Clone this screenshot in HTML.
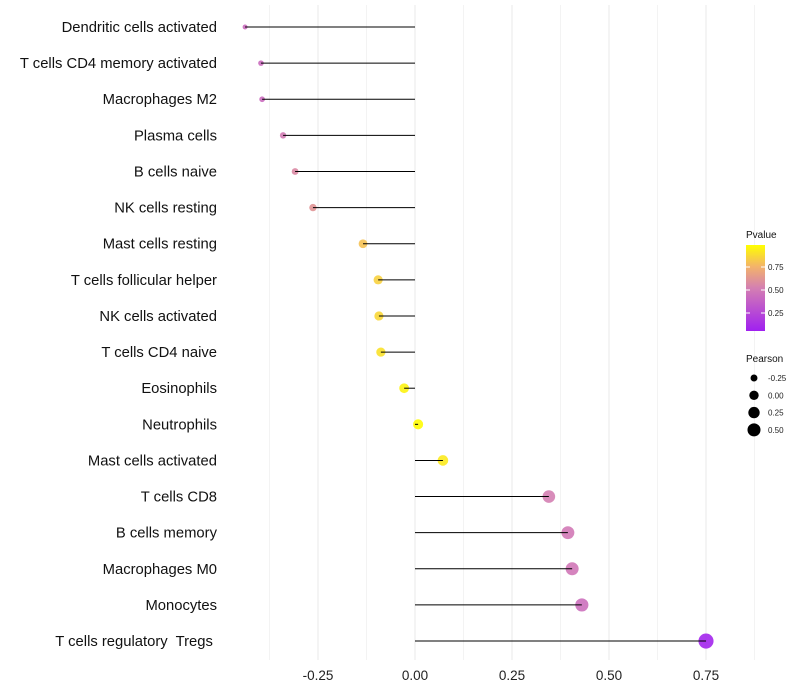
<!DOCTYPE html>
<html><head><meta charset="utf-8"><style>
body{margin:0;background:#fff;font-family:"Liberation Sans",sans-serif}
svg{display:block}
text{white-space:pre}
</style></head><body>
<svg id="c" width="800" height="700">
<defs><linearGradient id="g" x1="0" y1="1" x2="0" y2="0">
<stop offset="0" stop-color="#a020f0"/><stop offset="0.5" stop-color="#d47fb2"/><stop offset="0.75" stop-color="#f3b36a"/><stop offset="1" stop-color="#ffff00"/></linearGradient></defs>
</svg>
<script>
const categories=["Dendritic cells activated","T cells CD4 memory activated","Macrophages M2","Plasma cells","B cells naive","NK cells resting","Mast cells resting","T cells follicular helper","NK cells activated","T cells CD4 naive","Eosinophils","Neutrophils","Mast cells activated","T cells CD8","B cells memory","Macrophages M0","Monocytes","T cells regulatory  Tregs "];
const pearson=[-0.438,-0.397,-0.394,-0.34,-0.309,-0.263,-0.134,-0.095,-0.093,-0.088,-0.028,0.008,0.072,0.345,0.394,0.405,0.43,0.75];
const pvalue=[0.4,0.4,0.4,0.48,0.55,0.6,0.8,0.85,0.87,0.9,0.96,0.99,0.93,0.5,0.47,0.46,0.42,0.03];
const xTicks=[-0.25,0,0.25,0.5,0.75];
const xTickLabels=["-0.25","0.00","0.25","0.50","0.75"];
const legendSizes=[-0.25,0,0.25,0.5];
const legendPTicks=[0.25,0.5,0.75];
const svg=document.getElementById('c');const NS='http://www.w3.org/2000/svg';
function mk(t,a,p){const e=document.createElementNS(NS,t);for(const k in a)e.setAttribute(k,a[k]);(p||svg).appendChild(e);return e;}
const x=v=>415+v*388;
const y=i=>27+i*36.12;
const r=v=>Math.sqrt(Math.max(1,6+(v+0.44)*43));
function lerp(a,b,t){return a.map((c,i)=>Math.round(c+(b[i]-c)*t));}
function col(p){const s=[[0,[160,32,240]],[0.5,[212,127,178]],[0.75,[243,179,106]],[1,[255,255,0]]];
 for(let i=1;i<s.length;i++){if(p<=s[i][0]){const t=(p-s[i-1][0])/(s[i][0]-s[i-1][0]);return 'rgb('+lerp(s[i-1][1],s[i][1],t).join(',')+')';}}return 'rgb(255,255,0)';}
for(let v=-0.375;v<=0.9;v+=0.125){const g=mk('line',{x1:x(v),x2:x(v),y1:5,y2:660,stroke:'#ebebeb','stroke-width':(Math.abs(v*8)%2===1)?0.6:1.1});

}
xTicks.forEach((v,i)=>{const t=mk('text',{x:x(v),y:680,'text-anchor':'middle','font-size':13.5,fill:'#222'});t.textContent=xTickLabels[i];

});
categories.forEach((c,i)=>{
 const t=mk('text',{x:217,y:y(i)+5,'text-anchor':'end','font-size':14.8,fill:'#111'});t.textContent=c;
 
 
 const pt=mk('circle',{cx:x(pearson[i]),cy:y(i),r:r(pearson[i]),fill:col(pvalue[i]),'fill-opacity':0.9});
 
 
 const l=mk('line',{x1:x(0),x2:x(pearson[i]),y1:y(i),y2:y(i),stroke:'#000','stroke-width':1});
 
 
});
let lt=mk('text',{x:746,y:238,'font-size':10,fill:'#111'});lt.textContent='Pvalue';


const bar=mk('rect',{x:746,y:245,width:19,height:86,fill:'url(#g)'});


legendPTicks.forEach(p=>{const yy=336-p*92;mk('line',{x1:746,x2:750,y1:yy,y2:yy,stroke:'#fff'});mk('line',{x1:761,x2:765,y1:yy,y2:yy,stroke:'#fff'});
 const t=mk('text',{x:768,y:yy+3,'font-size':8,fill:'#222'});t.textContent=p.toFixed(2);
 
 });
lt=mk('text',{x:746,y:362,'font-size':10,fill:'#111'});lt.textContent='Pearson';


legendSizes.forEach((v,i)=>{const yy=378+i*17.3;const c=mk('circle',{cx:754,cy:yy,r:r(v)-0.3,fill:'#000'});
 
 
 const t=mk('text',{x:768,y:yy+3,'font-size':8,fill:'#222'});t.textContent=v.toFixed(2);
 
 });
</script>
</body></html>
